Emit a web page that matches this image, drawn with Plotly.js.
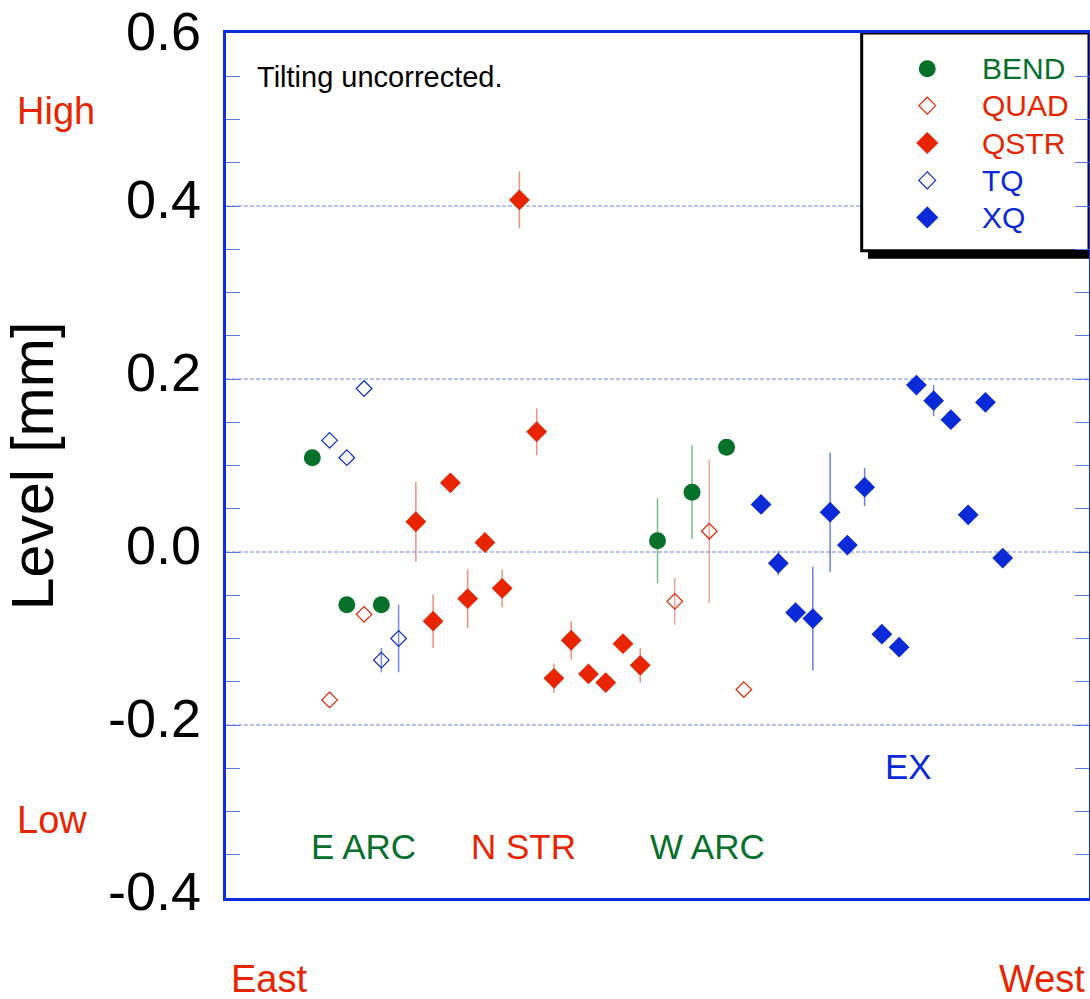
<!DOCTYPE html>
<html>
<head>
<meta charset="utf-8">
<script src="https://cdn.plot.ly/plotly-3.0.1.min.js"></script>
<style>html,body{margin:0;padding:0;background:#fff;}#chart{width:1090px;height:999px;}</style>
</head>
<body>
<div id="chart"></div>
<script>
// ---- data (position index along ring, level in mm, error in mm) ----
const bendX = [1, 3, 5, 21, 23, 25];
const bendY = [0.109, -0.061, -0.061, 0.013, 0.069, 0.121];
const bendE = [0, 0, 0, 0.049, 0.054, 0];

const quadX = [2, 4, 22, 24, 26];
const quadY = [-0.171, -0.072, -0.057, 0.024, -0.159];
const quadE = [0, 0, 0.027, 0.083, 0];

const qstrX = [7, 8, 9, 10, 11, 12, 13, 14, 15, 16, 17, 18, 19, 20];
const qstrY = [0.035, -0.080, 0.080, -0.054, 0.011, -0.042, 0.407, 0.139, -0.146, -0.102, -0.141, -0.151, -0.106, -0.131];
const qstrE = [0.046, 0.031, 0, 0.034, 0, 0.022, 0.033, 0.027, 0.017, 0.022, 0, 0, 0, 0.020];

const tqX = [2, 3, 4, 5, 6];
const tqY = [0.129, 0.109, 0.189, -0.125, -0.100];
const tqE = [0, 0, 0, 0.014, 0.039];

const xqX = [27, 28, 29, 30, 31, 32, 33, 34, 35, 36, 37, 38, 39, 40, 41];
const xqY = [0.055, -0.013, -0.070, -0.077, 0.046, 0.008, 0.075, -0.095, -0.110, 0.193, 0.175, 0.153, 0.043, 0.173, -0.007];
const xqE = [0, 0.014, 0, 0.060, 0.069, 0, 0.022, 0, 0, 0, 0.018, 0, 0, 0, 0];

const yTickVals = [-0.4, -0.2, 0.0, 0.2, 0.4, 0.6];
const yTickText = ["-0.4", "-0.2", "0.0", "0.2", "0.4", "0.6"];
const gridVals = [-0.2, 0.0, 0.2, 0.4];

const legendNames = ["BEND", "QUAD", "QSTR", "TQ", "XQ"];
const legendY = [0.9587, 0.9160, 0.8728, 0.8296, 0.7868];

const regionLabels = ["E ARC", "N STR", "W ARC", "EX"];

// ---- styles ----
const GREEN = "#07702a", RED = "#e82500", BLUE = "#0a2ad8";
const FONT = "Liberation Sans, Arial, Helvetica, sans-serif";
const legendSymbols = ["circle", "diamond-open", "diamond", "diamond-open", "diamond"];
const legendColors = [GREEN, RED, RED, BLUE, BLUE];
const legendSizes = [17, 13, 17, 13, 17];
const legendLines = [0, 1.2, 0, 1.2, 0];
const regionX = [0.0962, 0.2819, 0.4893, 0.7613];
const regionYp = [0.0593, 0.0597, 0.0597, 0.1518];
const regionColors = [GREEN, RED, GREEN, BLUE];

function series(x, y, e, symbol, color, size, ecolor, lw) {
  return {
    type: "scatter", mode: "markers", x: x, y: y,
    error_y: {type: "data", array: e, visible: true, color: ecolor, thickness: 1.5, width: 0},
    marker: {symbol: symbol, color: color, size: size, line: {color: color, width: lw}},
    showlegend: false, hoverinfo: "x+y", cliponaxis: false
  };
}

const traces = [
  series(bendX, bendY, bendE, "circle", GREEN, 17, "rgba(30,140,60,0.6)", 0),
  series(quadX, quadY, quadE, "diamond-open", RED, 12, "rgba(235,60,30,0.45)", 1.2),
  series(tqX, tqY, tqE, "diamond-open", BLUE, 12, "rgba(30,60,225,0.6)", 1.2),
  series(qstrX, qstrY, qstrE, "diamond", RED, 16, "rgba(235,50,20,0.55)", 0),
  series(xqX, xqY, xqE, "diamond", BLUE, 16, "rgba(30,60,225,0.65)", 0),
  {
    type: "scatter", mode: "markers", xaxis: "x2", yaxis: "y2",
    x: legendNames.map(() => 0.8126), y: legendY,
    marker: {symbol: legendSymbols, color: legendColors, size: legendSizes, opacity: 1,
             line: {color: legendColors, width: legendLines}},
    showlegend: false, hoverinfo: "skip", cliponaxis: false
  }
];

const yMax = Math.max(...yTickVals);
const annotations = [];
// y tick labels (drawn at the axis values, nudged up as in the original; top one kept inside the page)
yTickVals.forEach((v, i) => annotations.push({xref: "paper", yref: "y", x: -0.0267, y: v,
  yshift: v === yMax ? 2 : 7,
  xanchor: "right", yanchor: "middle", text: yTickText[i], showarrow: false,
  font: {family: FONT, size: 54, color: "#000"}}));
// y axis title
annotations.push({xref: "paper", yref: "paper", x: -0.2236, y: 0.4992, xanchor: "center", yanchor: "middle",
  textangle: -90, text: "Level [mm]", showarrow: false, font: {family: FONT, size: 59, color: "#000"}});
annotations.push({xref: "paper", yref: "paper", x: 0.0336, y: 0.9492, xanchor: "left", yanchor: "middle",
  text: "Tilting uncorrected.", showarrow: false, font: {family: FONT, size: 29, color: "#000"}});
annotations.push({xref: "paper", yref: "paper", x: -0.2445, y: 0.9096, xanchor: "left", yanchor: "middle",
  text: "High", showarrow: false, font: {family: FONT, size: 38, color: RED}});
annotations.push({xref: "paper", yref: "paper", x: -0.2445, y: 0.0905, xanchor: "left", yanchor: "middle",
  text: "Low", showarrow: false, font: {family: FONT, size: 38, color: RED}});
annotations.push({xref: "paper", yref: "paper", x: 0.0030, y: -0.0935, xanchor: "left", yanchor: "middle",
  text: "East", showarrow: false, font: {family: FONT, size: 38, color: RED}});
annotations.push({xref: "paper", yref: "paper", x: 0.9977, y: -0.0935, xanchor: "right", yanchor: "middle",
  text: "West", showarrow: false, font: {family: FONT, size: 38, color: RED}});
regionLabels.forEach((t, i) => annotations.push({xref: "paper", yref: "paper", x: regionX[i], y: regionYp[i],
  xanchor: "left", yanchor: "middle", text: t, showarrow: false,
  font: {family: FONT, size: 35, color: regionColors[i]}}));
legendNames.forEach((t, i) => annotations.push({xref: "paper", yref: "paper", x: 0.8740, y: legendY[i],
  xanchor: "left", yanchor: "middle", text: t, showarrow: false,
  font: {family: FONT, size: 30, color: legendColors[i]}}));

const shapes = gridVals.map(v => ({
  type: "line", xref: "x domain", yref: "y", x0: 0, x1: 1, y0: v, y1: v,
  line: {color: "#6f86ec", width: 1, dash: "4px,2px"}, layer: "below"
}));
shapes.push({type: "rect", xref: "paper", yref: "paper", x0: 0.744, x1: 1.01, y0: 0.7391, y1: 0.7483,
   fillcolor: "#000", line: {width: 0}, layer: "below"});
shapes.push({type: "rect", xref: "paper", yref: "paper", x0: 0.7366, x1: 1.0, y0: 0.7483, y1: 1.0,
   fillcolor: "#fff", line: {color: "#000", width: 3}, layer: "below"});

const layout = {
  width: 1090, height: 999,
  margin: {l: 226, r: 1, t: 33, b: 101, pad: 0},
  paper_bgcolor: "#fff", plot_bgcolor: "rgba(0,0,0,0)",
  font: {family: FONT, color: "#000"},
  showlegend: false,
  xaxis: {
    range: [-4, 46], showticklabels: false, ticks: "", showgrid: false, zeroline: false,
    showline: true, mirror: true, linecolor: "#0a2ee0", linewidth: 3
  },
  yaxis: {
    range: [-0.4, 0.6], tickmode: "array", tickvals: yTickVals, showticklabels: false,
    ticks: "inside", ticklen: 14, tickwidth: 1, tickcolor: "#5a78ea",
    minor: {tickmode: "linear", tick0: 0, dtick: 0.05, ticks: "inside", ticklen: 14, tickwidth: 1,
            tickcolor: "#5a78ea", showgrid: false},
    showline: true, mirror: "ticks", linecolor: "#0a2ee0", linewidth: 3,
    showgrid: false, zeroline: false, automargin: false
  },
  xaxis2: {overlaying: "x", range: [0, 1], visible: false, fixedrange: true},
  yaxis2: {overlaying: "y", range: [0, 1], visible: false, fixedrange: true},
  annotations: annotations,
  shapes: shapes
};

Plotly.newPlot("chart", traces, layout, {displayModeBar: false, staticPlot: true});
</script>
</body>
</html>
